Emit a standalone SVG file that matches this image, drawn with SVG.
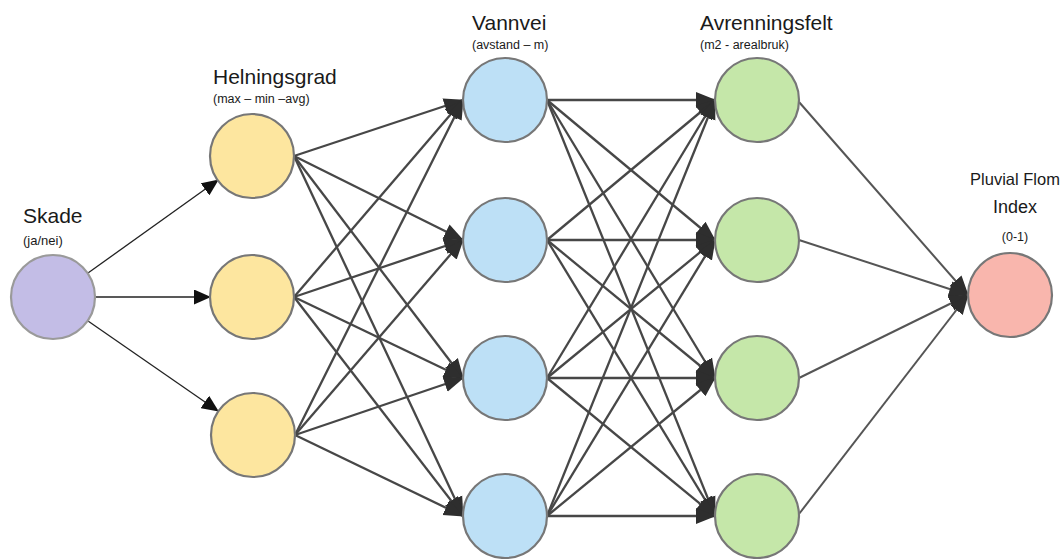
<svg xmlns="http://www.w3.org/2000/svg" width="1064" height="559" viewBox="0 0 1064 559">
<style>
.t{font-family:"Liberation Sans",Arial,sans-serif;fill:#1a1a1a}
.title{font-size:21px}
.sub{font-size:12.5px}
.node{stroke:#777;stroke-width:2.2}
.thin{stroke:#222;stroke-width:1.3;fill:none}
.conn{stroke:#474747;stroke-width:2.3;fill:none}
.connp{stroke:#555;stroke-width:2;fill:none}
</style>
<defs>
<marker id="ah" markerUnits="userSpaceOnUse" markerWidth="17" markerHeight="15" refX="16" refY="7.5" orient="auto">
<path d="M0,0 L17,7.5 L0,15 z" fill="#111"/>
</marker>
<marker id="ahd" markerUnits="userSpaceOnUse" markerWidth="20" markerHeight="18" refX="19" refY="9" orient="auto">
<path d="M0,1 L20,9 L0,17 z" fill="#2e2e2e"/>
</marker>
</defs>
<rect width="1064" height="559" fill="#fff"/>
<g id="connectors">
<line class="thin" x1="88" y1="273" x2="218" y2="180" marker-end="url(#ah)"/>
<line class="thin" x1="96" y1="297" x2="210" y2="297" marker-end="url(#ah)"/>
<line class="thin" x1="88" y1="321" x2="218" y2="411" marker-end="url(#ah)"/>
<g class="l2">
<line class="conn" x1="294" y1="156" x2="463" y2="100" marker-end="url(#ahd)"/>
<line class="conn" x1="294" y1="156" x2="463" y2="240" marker-end="url(#ahd)"/>
<line class="conn" x1="294" y1="156" x2="463" y2="378" marker-end="url(#ahd)"/>
<line class="conn" x1="294" y1="156" x2="463" y2="516" marker-end="url(#ahd)"/>
<line class="conn" x1="294" y1="297" x2="463" y2="100" marker-end="url(#ahd)"/>
<line class="conn" x1="294" y1="297" x2="463" y2="240" marker-end="url(#ahd)"/>
<line class="conn" x1="294" y1="297" x2="463" y2="378" marker-end="url(#ahd)"/>
<line class="conn" x1="294" y1="297" x2="463" y2="516" marker-end="url(#ahd)"/>
<line class="conn" x1="295" y1="435" x2="463" y2="100" marker-end="url(#ahd)"/>
<line class="conn" x1="295" y1="435" x2="463" y2="240" marker-end="url(#ahd)"/>
<line class="conn" x1="295" y1="435" x2="463" y2="378" marker-end="url(#ahd)"/>
<line class="conn" x1="295" y1="435" x2="463" y2="516" marker-end="url(#ahd)"/>
</g>
<g class="l3">
<line class="conn" x1="547" y1="100" x2="715" y2="100" marker-end="url(#ahd)"/>
<line class="conn" x1="547" y1="100" x2="715" y2="240" marker-end="url(#ahd)"/>
<line class="conn" x1="547" y1="100" x2="715" y2="378" marker-end="url(#ahd)"/>
<line class="conn" x1="547" y1="100" x2="715" y2="516" marker-end="url(#ahd)"/>
<line class="conn" x1="547" y1="240" x2="715" y2="100" marker-end="url(#ahd)"/>
<line class="conn" x1="547" y1="240" x2="715" y2="240" marker-end="url(#ahd)"/>
<line class="conn" x1="547" y1="240" x2="715" y2="378" marker-end="url(#ahd)"/>
<line class="conn" x1="547" y1="240" x2="715" y2="516" marker-end="url(#ahd)"/>
<line class="conn" x1="547" y1="378" x2="715" y2="100" marker-end="url(#ahd)"/>
<line class="conn" x1="547" y1="378" x2="715" y2="240" marker-end="url(#ahd)"/>
<line class="conn" x1="547" y1="378" x2="715" y2="378" marker-end="url(#ahd)"/>
<line class="conn" x1="547" y1="378" x2="715" y2="516" marker-end="url(#ahd)"/>
<line class="conn" x1="547" y1="516" x2="715" y2="100" marker-end="url(#ahd)"/>
<line class="conn" x1="547" y1="516" x2="715" y2="240" marker-end="url(#ahd)"/>
<line class="conn" x1="547" y1="516" x2="715" y2="378" marker-end="url(#ahd)"/>
<line class="conn" x1="547" y1="516" x2="715" y2="516" marker-end="url(#ahd)"/>
</g>
<g class="l4">
<line class="connp" x1="799" y1="102" x2="968" y2="295" marker-end="url(#ahd)"/>
<line class="connp" x1="799" y1="240" x2="968" y2="295" marker-end="url(#ahd)"/>
<line class="connp" x1="799" y1="378" x2="968" y2="295" marker-end="url(#ahd)"/>
<line class="connp" x1="799" y1="514" x2="968" y2="295" marker-end="url(#ahd)"/>
</g>
</g>
<g id="skade">
<circle class="node" cx="53" cy="297" r="42" fill="#c3bde6" style="stroke:#9a9a9a"/>
<text class="t title" x="23" y="223">Skade</text>
<text class="t" x="23" y="245" style="font-size:13px">(ja/nei)</text>
</g>
<g id="helningsgrad">
<text class="t title" x="213" y="84">Helningsgrad</text>
<text class="t sub" x="213" y="103">(max – min –avg)</text>
<circle id="h1" class="node" cx="252" cy="156" r="42" fill="#fde69f"/>
<circle id="h2" class="node" cx="252" cy="297" r="42" fill="#fde69f"/>
<circle id="h3" class="node" cx="253" cy="435" r="42" fill="#fde69f"/>
</g>
<g id="vannvei">
<text class="t title" x="472" y="30">Vannvei</text>
<text class="t sub" x="472" y="49">(avstand – m)</text>
<circle id="v1" class="node" cx="505" cy="100" r="42" fill="#bde0f6"/>
<circle id="v2" class="node" cx="505" cy="240" r="42" fill="#bde0f6"/>
<circle id="v3" class="node" cx="505" cy="378" r="42" fill="#bde0f6"/>
<circle id="v4" class="node" cx="505" cy="516" r="42" fill="#bde0f6"/>
</g>
<g id="avrenningsfelt">
<text class="t title" x="700" y="30">Avrenningsfelt</text>
<text class="t sub" x="700" y="49">(m2 - arealbruk)</text>
<circle id="a1" class="node" cx="757" cy="100" r="42" fill="#c5e7a9"/>
<circle id="a2" class="node" cx="757" cy="240" r="42" fill="#c5e7a9"/>
<circle id="a3" class="node" cx="757" cy="378" r="42" fill="#c5e7a9"/>
<circle id="a4" class="node" cx="757" cy="516" r="42" fill="#c5e7a9"/>
</g>
<g id="pluvial">
<text class="t" x="1015" y="185" style="font-size:16.5px" text-anchor="middle">Pluvial Flom</text>
<text class="t" x="1015" y="213" style="font-size:18px" text-anchor="middle">Index</text>
<text class="t sub" x="1015" y="241" text-anchor="middle">(0-1)</text>
<circle class="node" cx="1010" cy="295" r="42" fill="#f9b6ad"/>
</g>
</svg>
